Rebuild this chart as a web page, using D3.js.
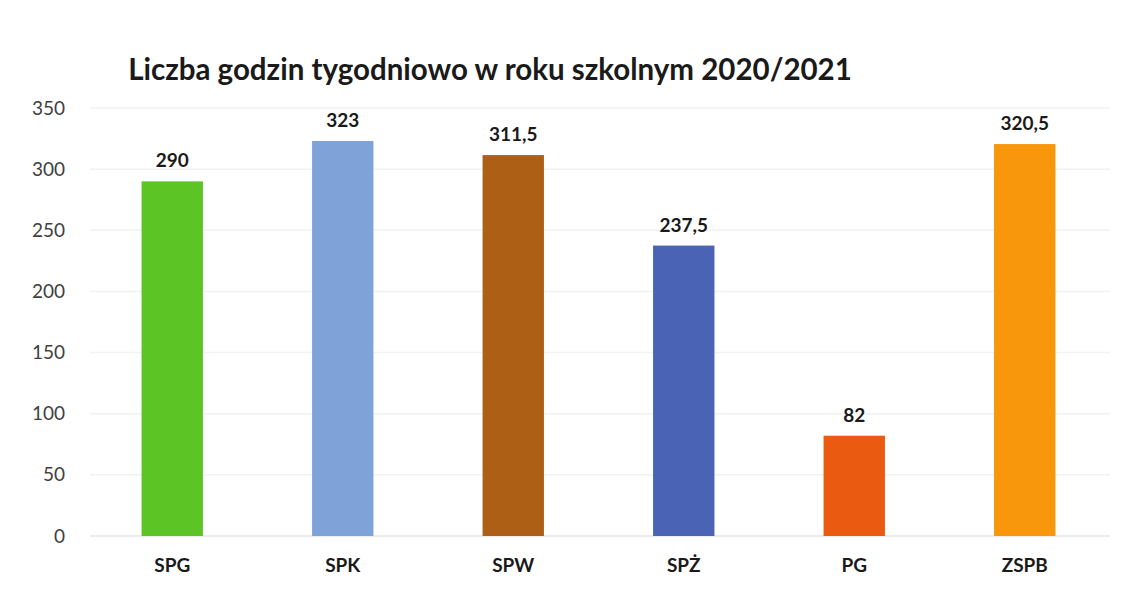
<!DOCTYPE html>
<html>
<head>
<meta charset="utf-8">
<script src="https://cdn.jsdelivr.net/npm/d3@7"></script>
<style>
  body { margin: 0; background: #ffffff; }
  text { font-family: Lato, "Open Sans", sans-serif; }
</style>
</head>
<body>
<script>
// data
var categories = ["SPG", "SPK", "SPW", "SPŻ", "PG", "ZSPB"];
var hours = [290, 323, 311.5, 237.5, 82, 320.5];
var labels = ["290", "323", "311,5", "237,5", "82", "320,5"];
var colors = ["#5cc424", "#7fa3d8", "#ad5f16", "#4b63b4", "#ea5a10", "#f8960c"];
var yTicks = [0, 50, 100, 150, 200, 250, 300, 350];

var width = 1126, height = 603;

var svg = d3.select("body").append("svg")
    .attr("width", width)
    .attr("height", height);

svg.append("rect")
    .attr("width", "100%")
    .attr("height", "100%")
    .attr("fill", "#ffffff");

// set the ranges
var x = d3.scaleBand()
    .domain(categories)
    .range([87, 1110])
    .paddingInner(0.64)
    .paddingOuter(0.32);

var y = d3.scaleLinear()
    .domain([0, 350])
    .range([536, 108]);

// gridlines (very faint in the original)
svg.append("g")
  .selectAll("line")
    .data(yTicks)
  .enter().append("line")
    .attr("x1", 90)
    .attr("x2", 1110)
    .attr("y1", function(d) { return y(d); })
    .attr("y2", function(d) { return y(d); })
    .attr("stroke", d => d === 0 ? "#e6e6e6" : "#f2f2f2")
    .attr("stroke-width", 1.5);

// y axis labels
var yAxis = svg.append("g")
    .attr("transform", "translate(65,0)")
    .call(d3.axisLeft(y).tickValues(yTicks).tickSize(0).tickPadding(0));
yAxis.select(".domain").remove();
yAxis.selectAll("text")
    .attr("font-family", "Lato, sans-serif")
    .attr("font-size", "19px")
    .attr("fill", "#404040");

// bars
svg.selectAll(".bar")
    .data(hours)
  .enter().append("rect")
    .attr("class", "bar")
    .attr("x", function(d, i) { return x(categories[i]); })
    .attr("width", x.bandwidth())
    .attr("y", function(d) { return y(d); })
    .attr("height", function(d) { return y(0) - y(d); })
    .attr("fill", function(d, i) { return colors[i]; });

// value labels
svg.selectAll(".val")
    .data(hours)
  .enter().append("text")
    .attr("class", "val")
    .attr("text-anchor", "middle")
    .attr("x", function(d, i) { return x(categories[i]) + x.bandwidth() / 2; })
    .attr("y", function(d) { return y(d) - 14; })
    .attr("font-size", "19px")
    .attr("font-weight", "bold")
    .attr("fill", "#1a1a1a")
    .text(function(d, i) { return labels[i]; });

// x axis
var xAxis = svg.append("g")
    .attr("transform", "translate(0," + (y(0) + 22) + ")")
    .call(d3.axisBottom(x).tickSize(0).tickPadding(0));
xAxis.select(".domain").remove();
xAxis.selectAll("text")
    .attr("font-family", "Lato, sans-serif")
    .attr("font-size", "19px")
    .attr("font-weight", "bold")
    .attr("fill", "#1a1a1a");

// title
svg.append("text")
    .attr("x", 490)
    .attr("y", 80)
    .attr("text-anchor", "middle")
    .attr("font-size", "29.5px")
    .attr("font-weight", "bold")
    .attr("fill", "#1a1a1a")
    .text("Liczba godzin tygodniowo w roku szkolnym 2020/2021");
</script>
</body>
</html>
